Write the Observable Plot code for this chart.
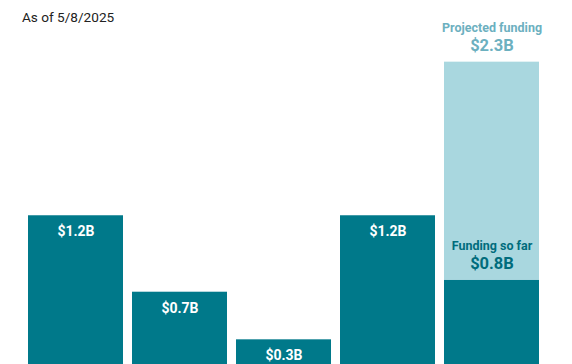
<!DOCTYPE html>
<html>
<head>
<meta charset="utf-8">
<script src="https://cdn.jsdelivr.net/npm/d3@7"></script>
<script src="https://cdn.jsdelivr.net/npm/@observablehq/plot@0.6"></script>
<style>
  html, body { margin: 0; padding: 0; background: #fff; overflow: hidden; }
  #wrap { position: relative; width: 572px; height: 364px; overflow: hidden; font-family: Roboto, "Noto Sans", sans-serif; }
  #title { position: absolute; left: 22px; top: 9px; font-size: 13.6px; color: #222; font-family: Roboto, sans-serif; }
  #chart { position: absolute; left: 0; top: 0; }
</style>
</head>
<body>
<div id="wrap">
  <div id="chart"></div>
  <div id="title">As of 5/8/2025</div>
</div>
<script>
const categories = ["2021", "2022", "2023", "2024", "2025"];
const fundedValues = [1.23, 0.676, 0.331, 1.23, 0.761];
const fundedLabels = ["$1.2B", "$0.7B", "$0.3B", "$1.2B", "$0.8B"];
const projectedCategory = "2025";
const projectedValue = 2.343;
const projectedLabel = "$2.3B";

const funded = categories.map((c, i) => ({cat: c, value: fundedValues[i], label: fundedLabels[i]}));
const past = funded.filter(d => d.cat !== projectedCategory);
const current = funded.filter(d => d.cat === projectedCategory);
const projected = [{cat: projectedCategory, lo: current[0].value, hi: projectedValue, label: projectedLabel}];

const dark = "#00798a";
const light = "#a9d7df";

const chart = Plot.plot({
  width: 572,
  height: 385,
  marginTop: 0,
  marginBottom: 0,
  marginLeft: 27,
  marginRight: 32,
  style: {fontFamily: "Roboto, sans-serif", background: "transparent"},
  x: {domain: categories, paddingInner: 0.091, paddingOuter: 0, axis: null},
  y: {domain: [0, 385 / 138], axis: null},
  marks: [
    Plot.barY(projected, {x: "cat", y1: "lo", y2: "hi", fill: light}),
    Plot.barY(funded, {x: "cat", y: "value", fill: dark}),
    Plot.text(past, {x: "cat", y: "value", text: "label", dy: 16, fill: "white", fontWeight: "bold", fontSize: 14}),
    Plot.text(projected, {x: "cat", y: "hi", text: d => "Projected funding", dy: -34, fill: "#6cb0bf", fontWeight: "bold", fontSize: 12.5}),
    Plot.text(projected, {x: "cat", y: "hi", text: "label", dy: -16, fill: "#6cb0bf", fontWeight: "bold", fontSize: 16.5}),
    Plot.text(current, {x: "cat", y: "value", text: d => "Funding so far", dy: -34, fill: "#006c7c", fontWeight: "bold", fontSize: 12.5}),
    Plot.text(current, {x: "cat", y: "value", text: "label", dy: -17, fill: "#006c7c", fontWeight: "bold", fontSize: 16.5})
  ]
});
document.getElementById("chart").appendChild(chart);
</script>
</body>
</html>
